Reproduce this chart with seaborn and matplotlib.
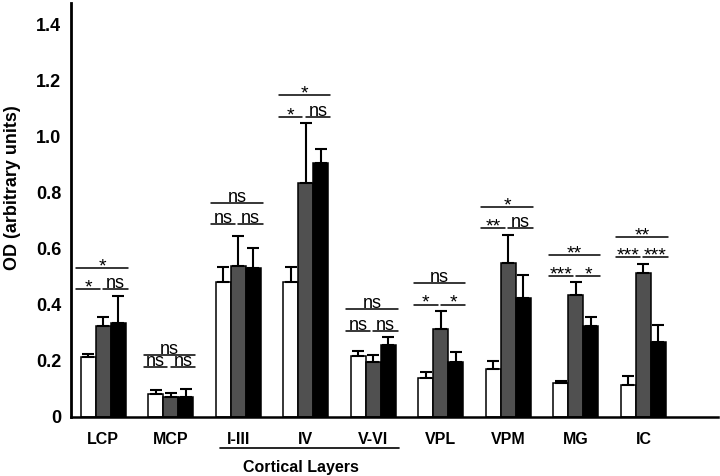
import numpy as np
import pandas as pd
import matplotlib
matplotlib.use("Agg")
import matplotlib.pyplot as plt
import seaborn as sns
from matplotlib.transforms import blended_transform_factory

# ---------------- data ----------------
regions = ["LCP", "MCP", "I-III", "IV", "V-VI", "VPL", "VPM", "MG", "IC"]
conditions = ["c1", "c2", "c3"]

white_mean = [0.212, 0.082, 0.482, 0.482, 0.215, 0.137, 0.168, 0.119, 0.113]
gray_mean = [0.322, 0.070, 0.539, 0.833, 0.196, 0.311, 0.550, 0.433, 0.513]
black_mean = [0.335, 0.068, 0.532, 0.906, 0.254, 0.196, 0.425, 0.323, 0.266]

white_err = [0.012, 0.013, 0.052, 0.052, 0.019, 0.021, 0.030, 0.007, 0.031]
gray_err = [0.033, 0.013, 0.105, 0.214, 0.022, 0.066, 0.100, 0.046, 0.031]
black_err = [0.095, 0.029, 0.070, 0.048, 0.030, 0.033, 0.082, 0.034, 0.061]

sig_left = ["*", "ns", "ns", "*", "ns", "*", "**", "***", "***"]
sig_right = ["ns", "ns", "ns", "ns", "ns", "*", "ns", "*", "***"]
sig_all = ["*", "ns", "ns", "*", "ns", "ns", "*", "**", "**"]
sig_short_y = [0.454, 0.176, 0.688, 1.071, 0.306, 0.400, 0.672, 0.502, 0.569]
sig_long_y = [0.529, 0.220, 0.764, 1.148, 0.383, 0.476, 0.747, 0.577, 0.640]

yticks = [0, 0.2, 0.4, 0.6, 0.8, 1.0, 1.2, 1.4]
ytick_labels = ["0", "0.2", "0.4", "0.6", "0.8", "1.0", "1.2", "1.4"]

# ---------------- figure ----------------
sns.set_theme(style="white")
plt.rcParams["font.family"] = ["Liberation Sans", "DejaVu Sans"]

W, H = 720, 476
fig = plt.figure(figsize=(W / 100, H / 100), dpi=100)
ax_l, ax_r, ax_t, ax_b = 71, 718, 3, 416.5
ax = fig.add_axes([ax_l / W, (H - ax_b) / H, (ax_r - ax_l) / W, (ax_b - ax_t) / H])

df = pd.DataFrame({
    "region": regions * 3,
    "cond": [conditions[0]] * 9 + [conditions[1]] * 9 + [conditions[2]] * 9,
    "od": white_mean + gray_mean + black_mean,
})

sns.barplot(data=df, x="region", y="od", hue="cond", order=regions,
            hue_order=conditions, palette=["white", "#505050", "black"],
            saturation=1, width=0.667, errorbar=None, edgecolor="black",
            linewidth=1.1, legend=False, ax=ax, zorder=2)

errs = [white_err, gray_err, black_err]
for cont, err in zip(ax.containers, errs):
    for bar, e in zip(cont, err):
        xc = bar.get_x() + bar.get_width() / 2
        h = bar.get_height()
        ax.errorbar(xc, h, yerr=[[0], [e]], fmt="none", ecolor="black",
                    elinewidth=1.5, capsize=4.2, capthick=1.5, zorder=3)

# significance annotations
def sig_text(x, y, s):
    if "*" in s:
        ax.annotate(s, xy=(x, y), xytext=(0, -2.4), textcoords="offset points",
                    ha="center", va="baseline", fontsize=14, color="black",
                    annotation_clip=False)
    else:
        ax.annotate(s, xy=(x, y), xytext=(0, 0.7), textcoords="offset points",
                    ha="center", va="baseline", fontsize=13, color="black",
                    annotation_clip=False)

for i in range(len(regions)):
    l1, r1 = i - 0.40, i - 0.05
    l2, r2 = i + 0.0, i + 0.36
    ys = sig_short_y[i]
    yl = sig_long_y[i]
    ax.plot([l1, r1], [ys, ys], color="black", lw=1.1, zorder=4)
    ax.plot([l2, r2], [ys, ys], color="black", lw=1.1, zorder=4)
    ax.plot([l1, r2], [yl, yl], color="black", lw=1.1, zorder=4)
    sig_text((l1 + r1) / 2, ys, sig_left[i])
    sig_text((l2 + r2) / 2, ys, sig_right[i])
    sig_text((l1 + r2) / 2, yl, sig_all[i])

# axes styling
ax.set_xlim(-0.479, 9.105)
ax.set_ylim(0, 1.477)
ax.set_yticks(yticks)
ax.set_yticklabels(ytick_labels, fontsize=13, fontweight="bold")
ax.tick_params(axis="y", direction="inout", length=4, width=1.5, pad=5, colors="black")
ax.tick_params(axis="x", length=0, pad=11)
for lab in ax.get_xticklabels():
    lab.set_fontsize(11.5)
    lab.set_fontweight("bold")
    lab.set_color("black")
ax.set_xlabel("")
ax.set_ylabel("OD (arbitrary units)", fontsize=13, fontweight="bold", color="black")
ax.yaxis.set_label_coords(-0.078, 0.553)

ax.spines["top"].set_visible(False)
ax.spines["right"].set_visible(False)
ax.spines["left"].set_linewidth(2.0)
ax.spines["bottom"].set_linewidth(1.8)
ax.spines["left"].set_color("black")
ax.spines["bottom"].set_color("black")

# "Cortical Layers" bracket
trans = blended_transform_factory(ax.transData, ax.transAxes)
y_line = -(448 - ax_b) / (ax_b - ax_t)
y_txt = -(467.5 - ax_b) / (ax_b - ax_t)
ax.plot([1.73, 4.38], [y_line, y_line], color="black", lw=1.2,
        transform=trans, clip_on=False)
ax.text(2.93, y_txt, "Cortical Layers", transform=trans, ha="center",
        va="center", fontsize=11.5, fontweight="bold", color="black")

fig.savefig("out.png", dpi=100)
